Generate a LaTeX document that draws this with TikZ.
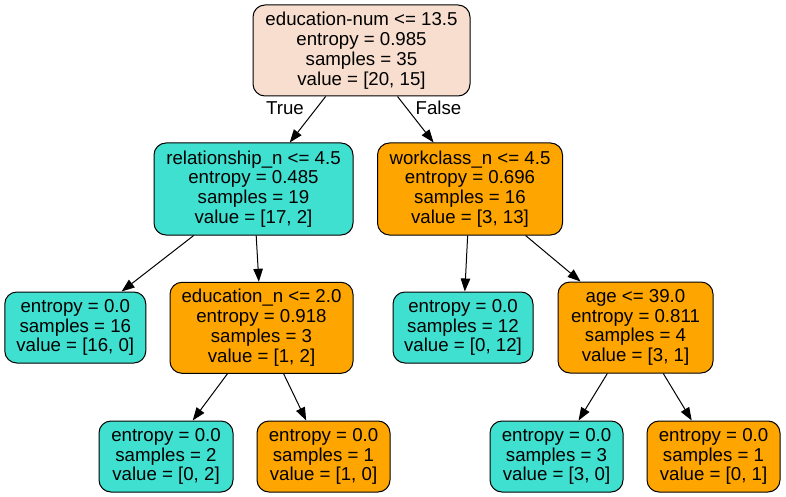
\documentclass[tikz,border=0pt]{standalone}
\usepackage{fontspec}
\setmainfont{Liberation Sans}
\usetikzlibrary{arrows.meta}
\definecolor{rootfill}{RGB}{248,222,207}
\definecolor{turq}{RGB}{64,224,208}
\definecolor{orng}{RGB}{255,165,0}
\tikzset{
  tnode/.style={draw=black, line width=1pt, rounded corners=12pt, align=center,
    inner sep=0pt, font=\fontsize{18.67}{19.8}\selectfont},
  inner/.style={tnode, minimum height=91pt},
  leaf/.style={tnode, minimum height=71pt},
  edge/.style={line width=1pt, -{Triangle[length=13pt,width=9.5pt]}},
  elabel/.style={font=\fontsize{18.67}{19.8}\selectfont, inner sep=0pt}
}
\begin{document}
\begin{tikzpicture}[x=1pt,y=-1pt]
\useasboundingbox (0,0) rectangle (786,497);
\fill[white] (0,0) rectangle (786,497);
\node[inner, fill=rootfill, minimum width=217pt] (root) at (361.5,50.5)
  {education-num <= 13.5\\entropy = 0.985\\samples = 35\\value = [20, 15]};
\node[inner, fill=turq, minimum width=199pt, minimum height=92pt] (rel) at (253.5,189)
  {relationship\_n <= 4.5\\entropy = 0.485\\samples = 19\\value = [17, 2]};
\node[inner, fill=orng, minimum width=185pt, minimum height=92pt] (work) at (470,189)
  {workclass\_n <= 4.5\\entropy = 0.696\\samples = 16\\value = [3, 13]};
\node[leaf, fill=turq, minimum width=141pt] (l16) at (75.3,327.5)
  {entropy = 0.0\\samples = 16\\value = [16, 0]};
\node[inner, fill=orng, minimum width=183pt] (edu) at (261.5,327.8)
  {education\_n <= 2.0\\entropy = 0.918\\samples = 3\\value = [1, 2]};
\node[leaf, fill=turq, minimum width=140pt] (l12) at (463,327.5)
  {entropy = 0.0\\samples = 12\\value = [0, 12]};
\node[inner, fill=orng, minimum width=155pt] (age) at (635.5,327.5)
  {age <= 39.0\\entropy = 0.811\\samples = 4\\value = [3, 1]};
\node[leaf, fill=turq, minimum width=134pt] (l2) at (166,456.5)
  {entropy = 0.0\\samples = 2\\value = [0, 2]};
\node[leaf, fill=orng, minimum width=133pt] (l1) at (323.5,456.5)
  {entropy = 0.0\\samples = 1\\value = [1, 0]};
\node[leaf, fill=turq, minimum width=133pt] (l3) at (556.5,456.5)
  {entropy = 0.0\\samples = 3\\value = [3, 0]};
\node[leaf, fill=orng, minimum width=133pt] (l01) at (713.5,456.5)
  {entropy = 0.0\\samples = 1\\value = [0, 1]};
\draw[edge] (root) -- (rel);
\draw[edge] (root) -- (work);
\draw[edge] (rel) -- (l16);
\draw[edge] (rel) -- (edu);
\draw[edge] (work) -- (l12);
\draw[edge] (work) -- (age);
\draw[edge] (edu) -- (l2);
\draw[edge] (edu) -- (l1);
\draw[edge] (age) -- (l3);
\draw[edge] (age) -- (l01);
\node[elabel] (ltrue) at (285,108) {True};
\node[elabel] (lfalse) at (438.5,108) {False};
\end{tikzpicture}
\end{document}
